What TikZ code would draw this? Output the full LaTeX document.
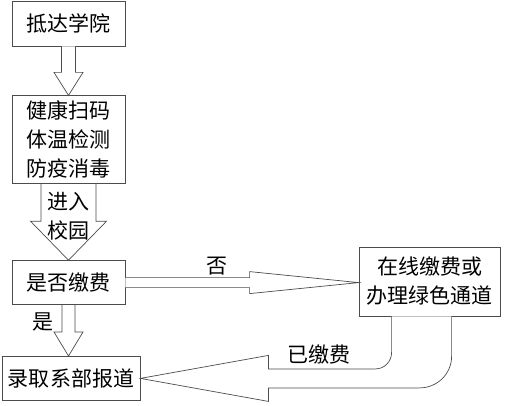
\documentclass[tikz,border=0pt]{standalone}
\usepackage{fontspec}
\newfontfamily\hei{Noto Sans CJK SC}
\usetikzlibrary{positioning,calc}
\tikzset{
	stepbox/.style={draw=black!70, line width=0.8pt, fill=white, inner sep=0pt, align=center, font=\hei\fontsize{21}{29}\selectfont},
	fatarrow/.style={draw=black!70, line width=0.7pt, fill=white, line join=miter},
	note/.style={inner sep=0pt, align=center, font=\hei\fontsize{21}{29}\selectfont}
}
% block arrow going down: #3 shaft half width, #4 head half width, #5 head length
\newcommand{\downblock}[5]{
	\draw [fatarrow] let \p1=(#1.south), \p2=(#2.north) in
		(\x1-#3pt,\y1) -- (\x1-#3pt,\y2+#5pt) -- (\x1-#4pt,\y2+#5pt) -- (\x1,\y2)
		-- (\x1+#4pt,\y2+#5pt) -- (\x1+#3pt,\y2+#5pt) -- (\x1+#3pt,\y1)
}

\begin{document}
\begin{tikzpicture}[x=1pt,y=-1pt]
	\useasboundingbox (0,0) rectangle (508,406);

	% boxes
	\node [stepbox, minimum width=113pt, minimum height=45pt] (arrive) at (68.5,23.5) {抵达学院};
	\node [stepbox, minimum width=113pt, minimum height=88pt, below=49pt of arrive] (check) {健康扫码\\体温检测\\防疫消毒};
	\node [stepbox, minimum width=113pt, minimum height=44pt, below=76pt of check] (pay) {是否缴费};
	\node [stepbox, minimum width=138pt, minimum height=44pt, below=51pt of pay.south west, anchor=north west, xshift=-10pt] (enrol) {录取系部报道};
	\node [stepbox, minimum width=141pt, minimum height=69pt] (online) at (429.5,281.5) {在线缴费或\\办理绿色通道};

	% arrows
	\downblock {arrive}{check}{7}{14.5}{23};
	\downblock {check}{pay}{27.5}{38}{39};
	\downblock {pay}{enrol}{6.5}{14.5}{24};
	\draw [fatarrow] let \p1=(pay.east), \p2=(online.west) in
		(\x1,\y1+5pt) -- (\x2-109pt,\y1+5pt) -- (\x2-109pt,\y1+11pt) -- (\x2,\y1)
		-- (\x2-109pt,\y1-11pt) -- (\x2-109pt,\y1-5pt) -- (\x1,\y1-5pt);
	\draw [fatarrow] let \p1=(online.south west), \p2=(enrol.east) in
		(\x1+33pt,\y1) -- (\x1+33pt,\y2+26pt) to[out=-90,in=0] (\x1+17pt,\y2+9.5pt)
		-- (\x2+128pt,\y2+9.5pt) -- (\x2+128pt,\y2+23pt) -- (\x2,\y2)
		-- (\x2+128pt,\y2-23pt) -- (\x2+128pt,\y2-9.5pt) -- (\x1+61pt,\y2-9.5pt)
		to[out=0,in=-90] (\x1+93pt,\y2+22pt) -- (\x1+93pt,\y1);

	% labels
	\node [note] (enter) at (68.5,216) {进入\\校园};
	\node [note] (no) at (217,266) {否};
	\node [note] (yes) at (43,322) {是};
	\node [note] (paid) at (319,355) {已缴费};
\end{tikzpicture}
\end{document}
